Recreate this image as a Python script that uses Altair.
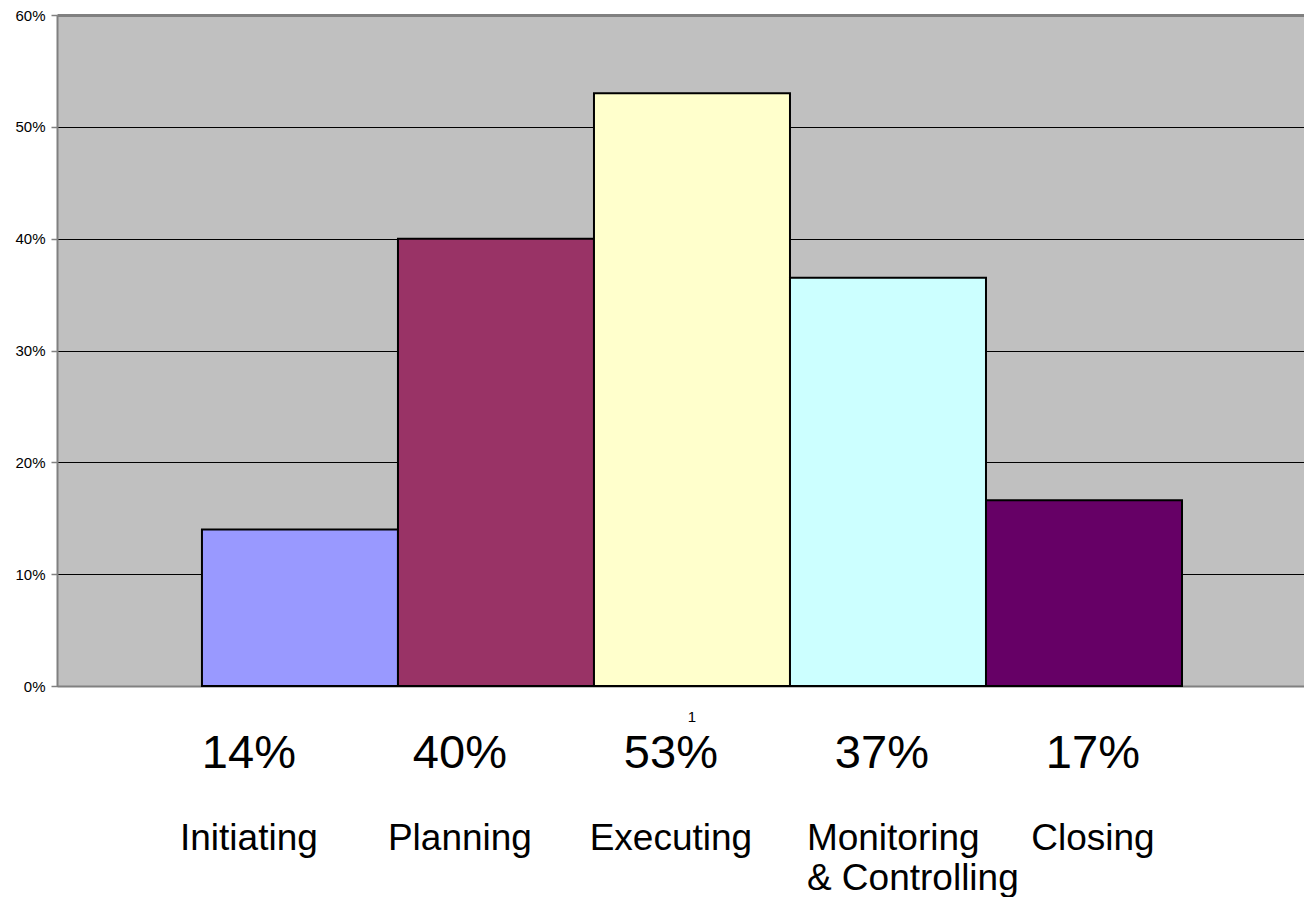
import altair as alt
import pandas as pd

# ---- data ----
group_label = "1"
phases = ["Initiating", "Planning", "Executing", "Monitoring & Controlling", "Closing"]
values = [0.14, 0.40, 0.53, 0.365, 0.166]
pct_text = ["14%", "40%", "53%", "37%", "17%"]
phase_text = ["Initiating", "Planning", "Executing", "Monitoring\n& Controlling", "Closing"]
colors = ["#9999FF", "#993366", "#FFFFCC", "#CCFFFF", "#660066"]
y_ticks = [0, 0.1, 0.2, 0.3, 0.4, 0.5, 0.6]

FONT = "Liberation Sans"

df = pd.DataFrame({
    "group": [group_label] * len(phases),
    "phase": phases,
    "value": values,
    "pct": pct_text,
    "label": phase_text,
})

# clustered bars: one category "1", five series side by side
bars = alt.Chart(df).mark_bar(stroke="black", strokeWidth=2).encode(
    x=alt.X(
        "group:N",
        scale=alt.Scale(paddingInner=0, paddingOuter=0.1362, align=0.543),
        axis=alt.Axis(
            title=None, labelAngle=0, ticks=False, labelPadding=23,
            labelFontSize=15, labelFont=FONT, labelColor="black",
            domainColor="#808080", domainWidth=2,
        ),
    ),
    xOffset=alt.XOffset(
        "phase:N", sort=phases,
        scale=alt.Scale(domain=phases, paddingInner=0, paddingOuter=0),
    ),
    y=alt.Y(
        "value:Q",
        scale=alt.Scale(domain=[0, 0.6], nice=False),
        axis=alt.Axis(
            title=None, format="%", values=y_ticks,
            labelFontSize=15, labelFont=FONT, labelColor="black", labelPadding=6,
            tickColor="#808080", tickSize=6, tickWidth=1.5,
            domainColor="#808080", domainWidth=2,
            grid=True,
            gridColor={"condition": {"test": "datum.value > 0.55", "value": "#808080"}, "value": "black"},
            gridWidth={"condition": {"test": "datum.value > 0.55", "value": 3}, "value": 1},
            gridOpacity=1,
        ),
    ),
    color=alt.Color("phase:N", scale=alt.Scale(domain=phases, range=colors), legend=None),
)

# annotation text boxes below the chart, evenly spaced on their own band scale
text_x = alt.X(
    "phase:N", sort=phases,
    scale=alt.Scale(type="band", domain=phases, paddingInner=0, paddingOuter=0.455, align=0.45),
    axis=None,
)
text_base = alt.Chart(df).encode(x=text_x)

pct_labels = text_base.mark_text(
    font=FONT, fontSize=47, color="black", align="center", baseline="alphabetic",
).encode(y=alt.value(753), text="pct:N")

cat_single = text_base.transform_filter(
    "indexof(datum.label, '\\n') < 0"
).mark_text(
    font=FONT, fontSize=37, color="black", align="center", baseline="alphabetic",
).encode(y=alt.value(835), text="label:N")

cat_multi = text_base.transform_filter(
    "indexof(datum.label, '\\n') >= 0"
).mark_text(
    font=FONT, fontSize=37, color="black", align="left", baseline="alphabetic",
    dx=-75, lineBreak="\n", lineHeight=40,
).encode(y=alt.value(835), text="label:N")

chart = alt.layer(bars, pct_labels, cat_single, cat_multi).resolve_scale(
    x="independent"
).properties(
    width=1247,
    height=671,
    autosize=alt.AutoSizeParams(type="none"),
    padding={"left": 49, "top": 7, "right": 0, "bottom": 211},
    view=alt.ViewBackground(fill="#C0C0C0", stroke="#C0C0C0"),
).configure(font=FONT)

chart.save("out.html", embed_options={"renderer": "svg", "actions": False})
